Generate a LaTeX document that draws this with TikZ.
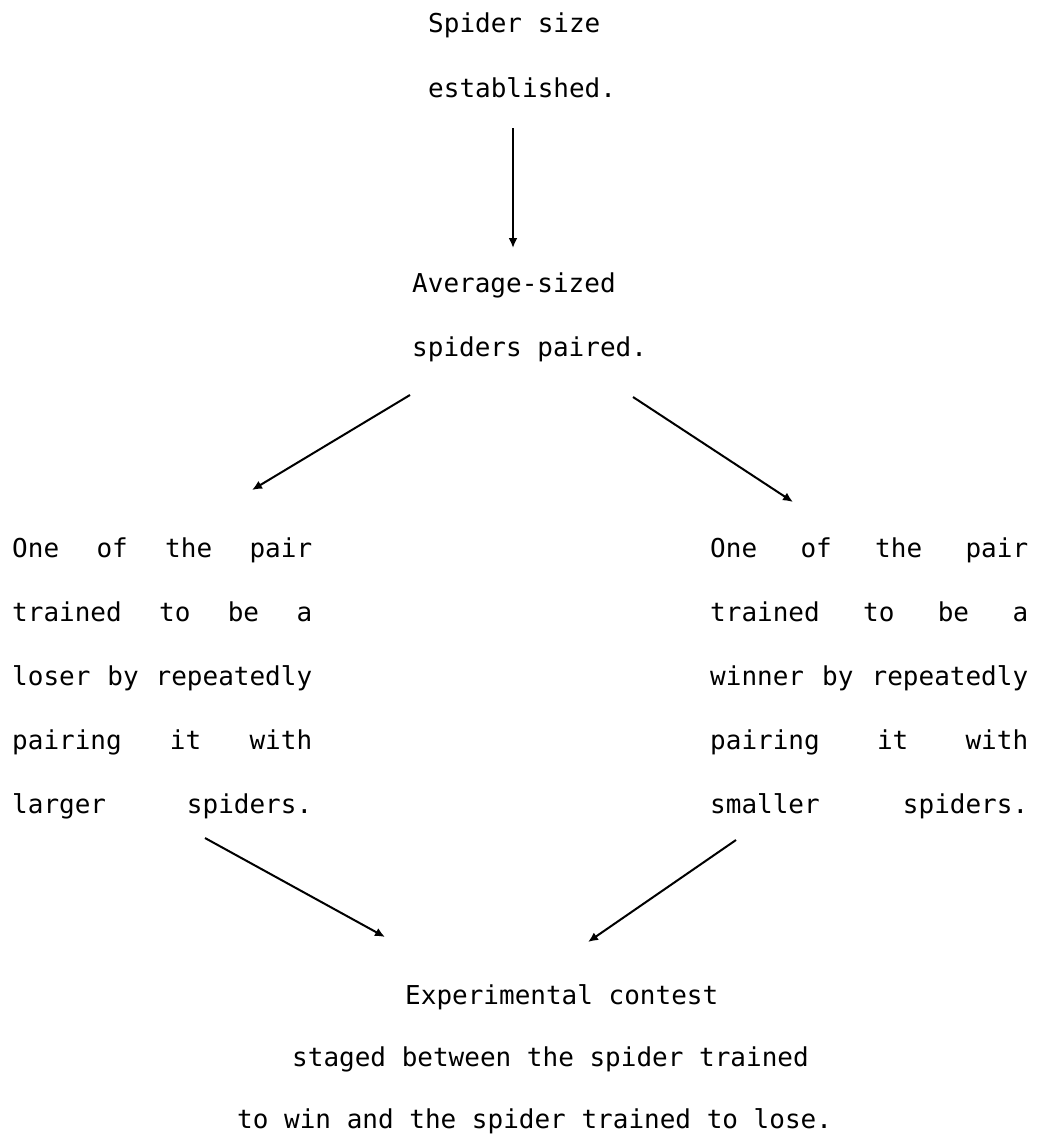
\documentclass[tikz,border=0pt]{standalone}
\usepackage{fontspec}
\setmonofont{DejaVu Sans Mono}
\usetikzlibrary{arrows.meta}
% a line of text spread over a fixed width, words separated by \hfill
\newcommand{\spreadline}[2]{\makebox[#1][l]{#2}}
\begin{document}
\begin{tikzpicture}[x=1pt,y=-1pt,
  txt/.style={font=\ttfamily\fontsize{26}{30}\selectfont, inner sep=0pt, anchor=base west},
  arr/.style={line width=2pt, -{Latex[length=10pt,width=9pt]}}]
\useasboundingbox[fill=white] (0,0) rectangle (1039,1140);

% first step
\node[txt] (s1a) at (428,33) {Spider size};
\node[txt] (s1b) at (428,97) {established.};

% pairing
\node[txt] (s2a) at (412,292) {Average-sized};
\node[txt] (s2b) at (412,356) {spiders paired.};

% loser branch (justified lines)
\node[txt] (l1) at (12,557) {\spreadline{300pt}{One\hfill of\hfill the\hfill pair}};
\node[txt] (l2) at (12,621) {\spreadline{300pt}{trained\hfill to\hfill be\hfill a}};
\node[txt] (l3) at (12,685) {\spreadline{300pt}{loser\hfill by\hfill repeatedly}};
\node[txt] (l4) at (12,749) {\spreadline{300pt}{pairing\hfill it\hfill with}};
\node[txt] (l5) at (12,813) {\spreadline{300pt}{larger\hfill spiders.}};

% winner branch (justified lines)
\node[txt] (r1) at (710,557) {\spreadline{318pt}{One\hfill of\hfill the\hfill pair}};
\node[txt] (r2) at (710,621) {\spreadline{318pt}{trained\hfill to\hfill be\hfill a}};
\node[txt] (r3) at (710,685) {\spreadline{318pt}{winner\hfill by\hfill repeatedly}};
\node[txt] (r4) at (710,749) {\spreadline{318pt}{pairing\hfill it\hfill with}};
\node[txt] (r5) at (710,813) {\spreadline{318pt}{smaller\hfill spiders.}};

% final contest
\node[txt] (c1) at (405,1004) {Experimental contest};
\node[txt] (c2) at (292,1066) {staged between the spider trained};
\node[txt] (c3) at (237,1128) {to win and the spider trained to lose.};

% arrow end points
\coordinate (a1s) at (513,128);
\coordinate (a1e) at (513,248);
\coordinate (a2s) at (410,395);
\coordinate (a2e) at (252,490);
\coordinate (a3s) at (633,397);
\coordinate (a3e) at (793,502);
\coordinate (a4s) at (205,838);
\coordinate (a4e) at (385,937);
\coordinate (a5s) at (736,840);
\coordinate (a5e) at (588,942);

\draw[arr] (a1s) -- (a1e);
\draw[arr] (a2s) -- (a2e);
\draw[arr] (a3s) -- (a3e);
\draw[arr] (a4s) -- (a4e);
\draw[arr] (a5s) -- (a5e);
\end{tikzpicture}
\end{document}
